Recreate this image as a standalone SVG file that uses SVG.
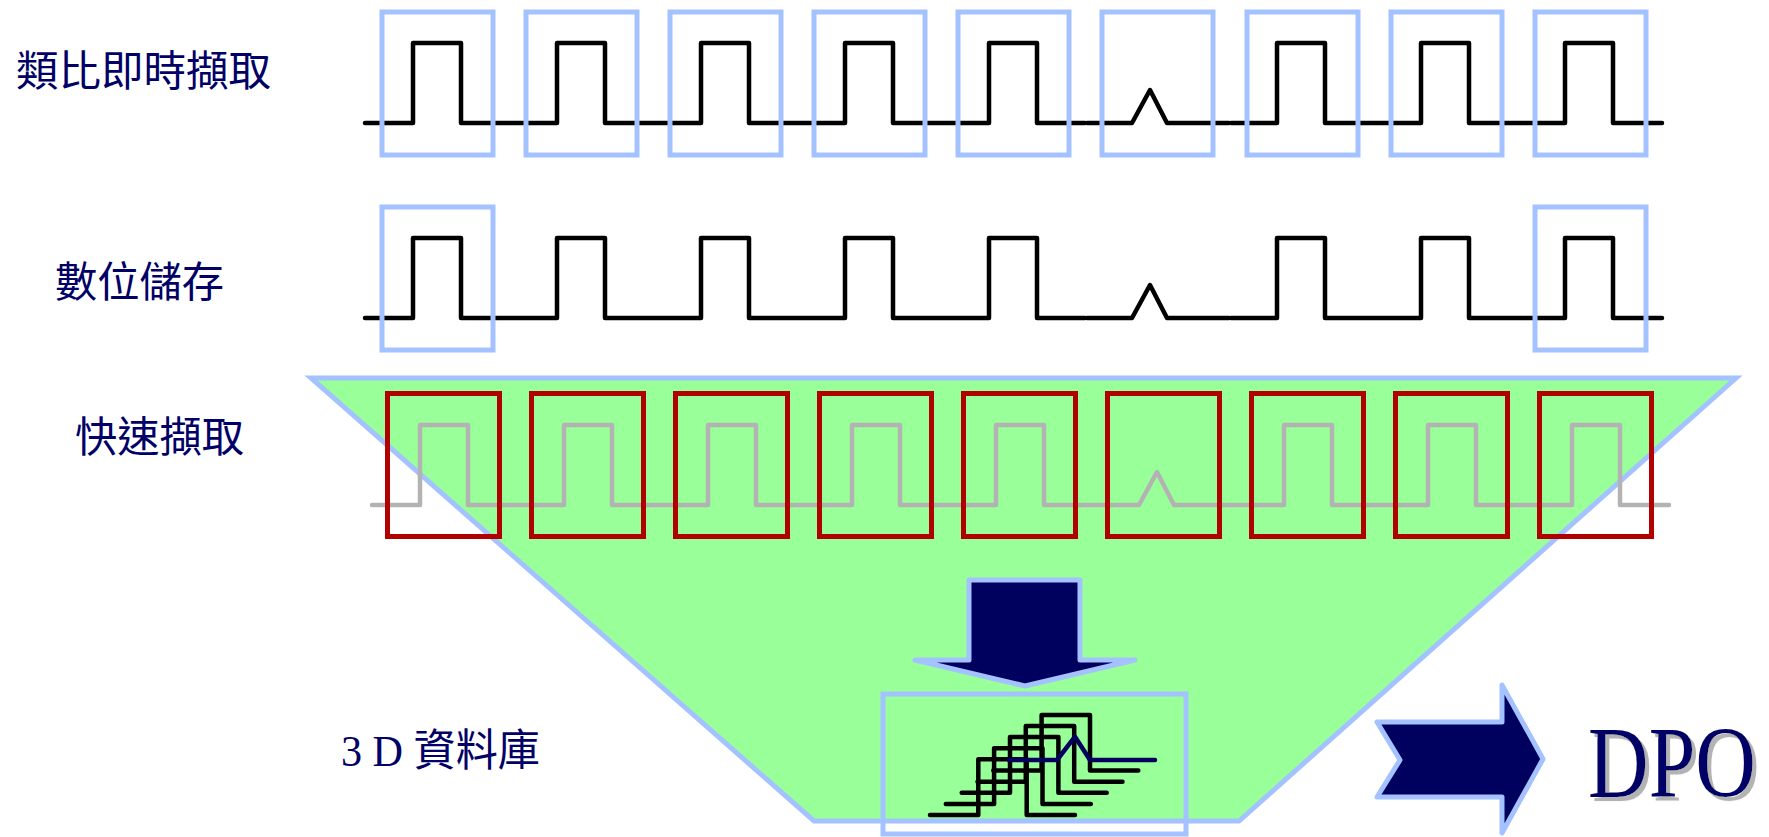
<svg xmlns="http://www.w3.org/2000/svg" width="1769" height="837" viewBox="0 0 1769 837">
<style>
.lbl{font-family:"Noto Sans CJK TC","Noto Sans CJK SC",sans-serif;font-size:42px;fill:#000066}
.bbox{fill:none;stroke:#a4c2ff;stroke-width:5}
.rbox{fill:none;stroke:#b00000;stroke-width:5}
.wave{fill:none;stroke:#000;stroke-width:4.5;stroke-linejoin:round;stroke-linecap:round}
.gwave{fill:none;stroke:#b3b3b3;stroke-width:4.5;stroke-linejoin:round;stroke-linecap:round}
.big{fill:#00005e;stroke:#a4c2ff;stroke-width:5;stroke-linejoin:round}
</style>
<defs>
<g id="wf">
<path d="M365,123 H413 V43 H461 V123 H557 V43 H605 V123 H701 V43 H749 V123 H845 V43 H893 V123 H989 V43 H1037 V123 H1085"/>
<path d="M1087,123 H1132 L1150,90 L1167,123 H1229"/>
<path d="M1231,123 H1277 V43 H1325 V123 H1421 V43 H1469 V123 H1565 V43 H1613 V123 H1662"/>
</g>
<rect id="bb" class="bbox" width="111" height="143"/>
<rect id="rb" class="rbox" width="112" height="143"/>
<filter id="shadow" x="-10%" y="-10%" width="130%" height="130%">
<feDropShadow dx="4" dy="3.4" stdDeviation="0.4" flood-color="#b3b3b3" flood-opacity="1"/>
</filter>
</defs>

<rect width="1769" height="837" fill="#fff"/>

<g id="row1">
<text class="lbl" x="16" y="86" textLength="255" lengthAdjust="spacingAndGlyphs">類比即時擷取</text>
<use href="#wf" class="wave"/>
<use href="#bb" x="382" y="12"/>
<use href="#bb" x="526" y="12"/>
<use href="#bb" x="670" y="12"/>
<use href="#bb" x="814" y="12"/>
<use href="#bb" x="958" y="12"/>
<use href="#bb" x="1102" y="12"/>
<use href="#bb" x="1247" y="12"/>
<use href="#bb" x="1391" y="12"/>
<use href="#bb" x="1535" y="12"/>
</g>

<g id="row2">
<text class="lbl" x="55" y="297" textLength="169" lengthAdjust="spacingAndGlyphs">數位儲存</text>
<use href="#wf" class="wave" transform="translate(0,195)"/>
<use href="#bb" x="382" y="207"/>
<use href="#bb" x="1535" y="207"/>
</g>

<g id="funnel">
<polygon points="311,378 1736,378 1239,821 814,821" fill="#99ff99" stroke="#a4c2ff" stroke-width="5"/>
</g>

<g id="row3">
<text class="lbl" x="75" y="452" textLength="169" lengthAdjust="spacingAndGlyphs">快速擷取</text>
<use href="#wf" class="gwave" transform="translate(7,382)"/>
<use href="#rb" x="387.5" y="393.5"/>
<use href="#rb" x="531.5" y="393.5"/>
<use href="#rb" x="675.5" y="393.5"/>
<use href="#rb" x="819.5" y="393.5"/>
<use href="#rb" x="963.5" y="393.5"/>
<use href="#rb" x="1107.5" y="393.5"/>
<use href="#rb" x="1251.5" y="393.5"/>
<use href="#rb" x="1395.5" y="393.5"/>
<use href="#rb" x="1539.5" y="393.5"/>
</g>

<g id="database">
<text x="341" y="766" font-family="'Liberation Serif','Noto Sans CJK TC',serif" font-size="44" fill="#000066" textLength="199" lengthAdjust="spacingAndGlyphs">3 D 資料庫</text>
<rect x="883" y="694" width="303" height="140" fill="none" stroke="#a4c2ff" stroke-width="5"/>
<g fill="none" stroke="#000" stroke-width="4.5" stroke-linejoin="round" stroke-linecap="round">
<path d="M930,815 H978.3 V759.3 H1026.7 V815 H1075"/>
<path d="M945.8,803.9 H994.1 V748.2 H1042.5 V803.9 H1090.8"/>
<path d="M961.7,792.8 H1010 V737.1 H1058.4 V792.8 H1106.7"/>
<path d="M977.5,781.7 H1025.8 V726 H1074.2 V781.7 H1122.5"/>
<path d="M993.3,770.6 H1041.6 V714.9 H1090 V770.6 H1138.3"/>
</g>
<path d="M1009,760 H1057 L1075,736.7 L1090,760 H1155" fill="none" stroke="#00005e" stroke-width="4.5" stroke-linejoin="round" stroke-linecap="round"/>
</g>

<g id="connectors">
<polygon class="big" points="969,580 1080,580 1080,660 1135,660 1025,686 915,660 969,660"/>
<polygon class="big" points="1377,722 1502,722 1502,685 1543,759 1502,833 1502,797 1377,797 1400,760"/>
</g>

<g id="dpo">
<text transform="translate(1588,797) scale(1,1.2)" x="0" y="0" font-family="'Liberation Serif',serif" font-size="84" fill="#000066" filter="url(#shadow)">DPO</text>
</g>
</svg>
